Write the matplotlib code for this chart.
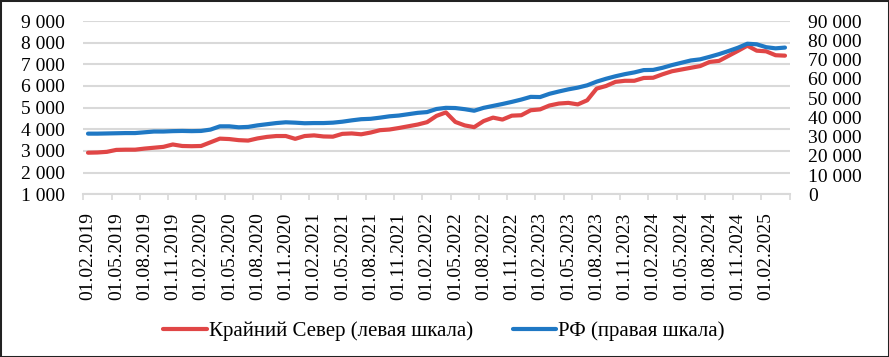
import matplotlib
matplotlib.use("Agg")
import matplotlib.pyplot as plt
from matplotlib.patches import Rectangle
from matplotlib.ticker import FuncFormatter, FixedLocator
import pandas as pd

# Monthly categories: 01.02.2019 ... 01.04.2025
dates = pd.date_range("2019-02-01", periods=75, freq="MS")
categories = [d.strftime("%d.%m.%Y") for d in dates]

# Крайний Север (левая шкала)
north = [2920, 2930, 2960, 3050, 3060, 3060, 3110, 3150, 3190, 3300,
         3230, 3220, 3230, 3400, 3570, 3550, 3500, 3480, 3580, 3650,
         3690, 3690, 3560, 3690, 3720, 3670, 3660, 3790, 3810, 3770,
         3850, 3960, 3990, 4060, 4140, 4220, 4330, 4620, 4780, 4340,
         4180, 4100, 4380, 4540, 4450, 4630, 4650, 4880, 4920, 5100,
         5190, 5220, 5150, 5340, 5880, 6000, 6190, 6240, 6240, 6370,
         6380, 6540, 6680, 6760, 6840, 6920, 7110, 7160, 7390, 7620,
         7860, 7630, 7600, 7420, 7400]

# РФ (правая шкала)
rf = [31500, 31500, 31600, 31700, 31800, 31800, 32200, 32600, 32600, 32800,
      32900, 32800, 32900, 33600, 35300, 35300, 34800, 35000, 35800, 36400,
      37000, 37400, 37200, 36900, 37000, 37000, 37200, 37700, 38400, 39000,
      39200, 39800, 40500, 40900, 41600, 42300, 42700, 44300, 44900, 44800,
      44200, 43400, 44900, 45900, 46900, 48000, 49200, 50600, 50500, 52200,
      53400, 54500, 55400, 56600, 58500, 60000, 61300, 62400, 63300, 64500,
      64600, 65700, 67100, 68300, 69500, 70100, 71400, 72800, 74400, 76100,
      78200, 77900, 76400, 75800, 76200]

left_ticks = [1000, 2000, 3000, 4000, 5000, 6000, 7000, 8000, 9000]
right_ticks = [0, 10000, 20000, 30000, 40000, 50000, 60000, 70000, 80000, 90000]

label_north = "Крайний Север (левая шкала)"
label_rf = "РФ (правая шкала)"

RED = "#E04646"
BLUE = "#1F78C4"
GRID = "#D9D9D9"
FS = 14
SERIF = ["Liberation Serif", "DejaVu Serif"]

plt.rcParams["font.family"] = SERIF

W, H = 889, 357
fig = plt.figure(figsize=(W / 100, H / 100), dpi=100)
ax = fig.add_axes([83.3 / W, 1 - 194.3 / H, (789.7 - 83.3) / W, (194.3 - 21) / H])
ax2 = ax.twinx()

x = list(range(len(categories)))
l1, = ax.plot(x, north, color=RED, lw=3.0, solid_capstyle="round", solid_joinstyle="round")
l2, = ax2.plot(x, rf, color=BLUE, lw=3.0, solid_capstyle="round", solid_joinstyle="round")

thousands = FuncFormatter(lambda v, p: f"{int(v):,}".replace(",", " "))

ax.set_xlim(-0.5, len(categories) - 0.5)
ax.set_ylim(left_ticks[0], left_ticks[-1])
ax.set_yticks(left_ticks)
ax.yaxis.set_major_formatter(thousands)
ax2.set_ylim(right_ticks[0], right_ticks[-1])
ax2.set_yticks(right_ticks)
ax2.yaxis.set_major_formatter(thousands)

ax.yaxis.grid(True, color=GRID, lw=1.5)
ax.set_axisbelow(True)

major = x[::3]
ax.xaxis.set_major_locator(FixedLocator(major))
ax.set_xticklabels([categories[i] for i in major], rotation=90, ha="center", va="top")
ax.xaxis.set_minor_locator(FixedLocator([i - 0.5 for i in range(0, len(categories) + 1, 3)]))
ax.tick_params(axis="x", which="major", length=0, pad=13, labelsize=FS)
ax.tick_params(axis="x", which="minor", length=4.5, width=1.2, color=GRID)
ax.tick_params(axis="y", length=0, pad=13, labelsize=FS)
ax2.tick_params(axis="y", length=0, pad=13, labelsize=FS)

for a in (ax, ax2):
    for s in ("top", "left", "right", "bottom"):
        a.spines[s].set_visible(False)
ax.spines["bottom"].set_visible(True)
ax.spines["bottom"].set_color(GRID)
ax.spines["bottom"].set_linewidth(1.5)

fig.legend([l1, l2], [label_north, label_rf], loc="center", bbox_to_anchor=(444 / W, 1 - 331 / H),
           ncol=2, frameon=False, prop={"family": SERIF, "size": 15},
           handlelength=2.1, handletextpad=0.1, columnspacing=1.9)

fig.patches.append(Rectangle((0, 0), 1, 1, transform=fig.transFigure, fill=False,
                             edgecolor="#222222", lw=2.2))

fig.savefig("out.png", dpi=100)
